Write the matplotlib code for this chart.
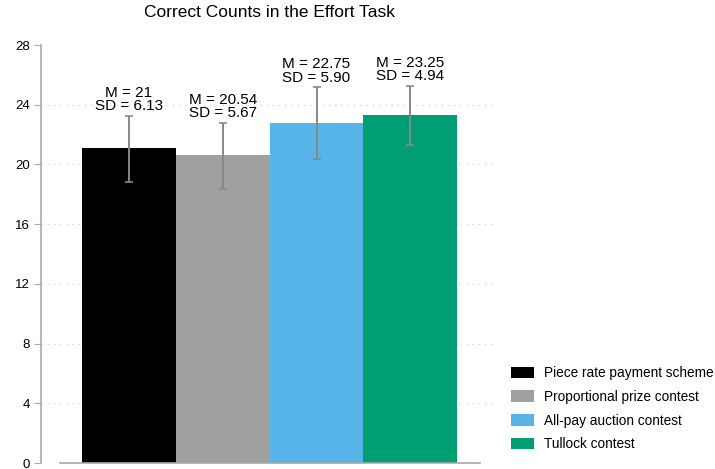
import matplotlib.pyplot as plt
import numpy as np

# data
groups = ['Piece rate payment scheme', 'Proportional prize contest',
          'All-pay auction contest', 'Tullock contest']
heights = [21.08, 20.6, 22.78, 23.3]
ci_low = [18.82, 18.35, 20.38, 21.28]
ci_high = [23.26, 22.77, 25.16, 25.27]
m_labels = ['21', '20.54', '22.75', '23.25']
sd_labels = ['6.13', '5.67', '5.90', '4.94']
colors = ['#000000', '#a0a0a0', '#56b4e9', '#009e73']
yticks = [0, 4, 8, 12, 16, 20, 24, 28]

plt.rcParams['font.family'] = ['Liberation Sans', 'DejaVu Sans']

fig = plt.figure(figsize=(7.15, 4.69), dpi=100)
ax = fig.add_axes([41 / 715, 1 - 463 / 469, 457 / 715, 418 / 469])

x = np.arange(len(groups))
bars = ax.bar(x, heights, width=1.0, color=colors, label=groups, zorder=2)

# error bars (asymmetric, from the interval ends)
lo = np.array(heights) - np.array(ci_low)
hi = np.array(ci_high) - np.array(heights)
ax.errorbar(x, heights, yerr=[lo, hi], fmt='none', ecolor='#888888',
            elinewidth=1.4, capsize=3, capthick=1.2, zorder=3)

# mean / sd labels above each error bar
for xi, top, m, sd in zip(x, ci_high, m_labels, sd_labels):
    ax.annotate('M = %s\nSD = %s' % (m, sd), xy=(xi, top), xytext=(0, 2),
                textcoords='offset points', ha='center', va='bottom',
                fontsize=11, linespacing=0.95, zorder=4)

# dotted grid lines (not at 0 or 28)
for yv in yticks[1:-1]:
    ax.axhline(yv, color='#d0d0d0', lw=0.9, ls=(0, (1, 4)), zorder=1)

ax.set_xlim(-0.939, 3.936)
ax.set_ylim(0, 28)
ax.set_yticks(yticks)
ax.set_xticks([])
ax.tick_params(axis='y', labelsize=9.5, length=5, color='#aaaaaa', pad=3)

for side in ['top', 'right']:
    ax.spines[side].set_visible(False)
ax.spines['left'].set_color('#aaaaaa')
ax.spines['bottom'].set_color('#aaaaaa')
ax.spines['left'].set_linewidth(1.2)
ax.spines['bottom'].set_linewidth(1.2)
ax.spines['bottom'].set_bounds(-0.736, 3.744)

ax.set_title('Correct Counts in the Effort Task', fontsize=12.5, pad=20)

fig.legend(handles=bars, labels=groups, loc='upper left',
           bbox_to_anchor=(511 / 715, 1 - 366 / 469), frameon=False,
           fontsize=9.8, handlelength=1.7, handleheight=0.9,
           labelspacing=0.72, handletextpad=0.75, borderaxespad=0,
           borderpad=0)

fig.savefig('out.png', dpi=100)
